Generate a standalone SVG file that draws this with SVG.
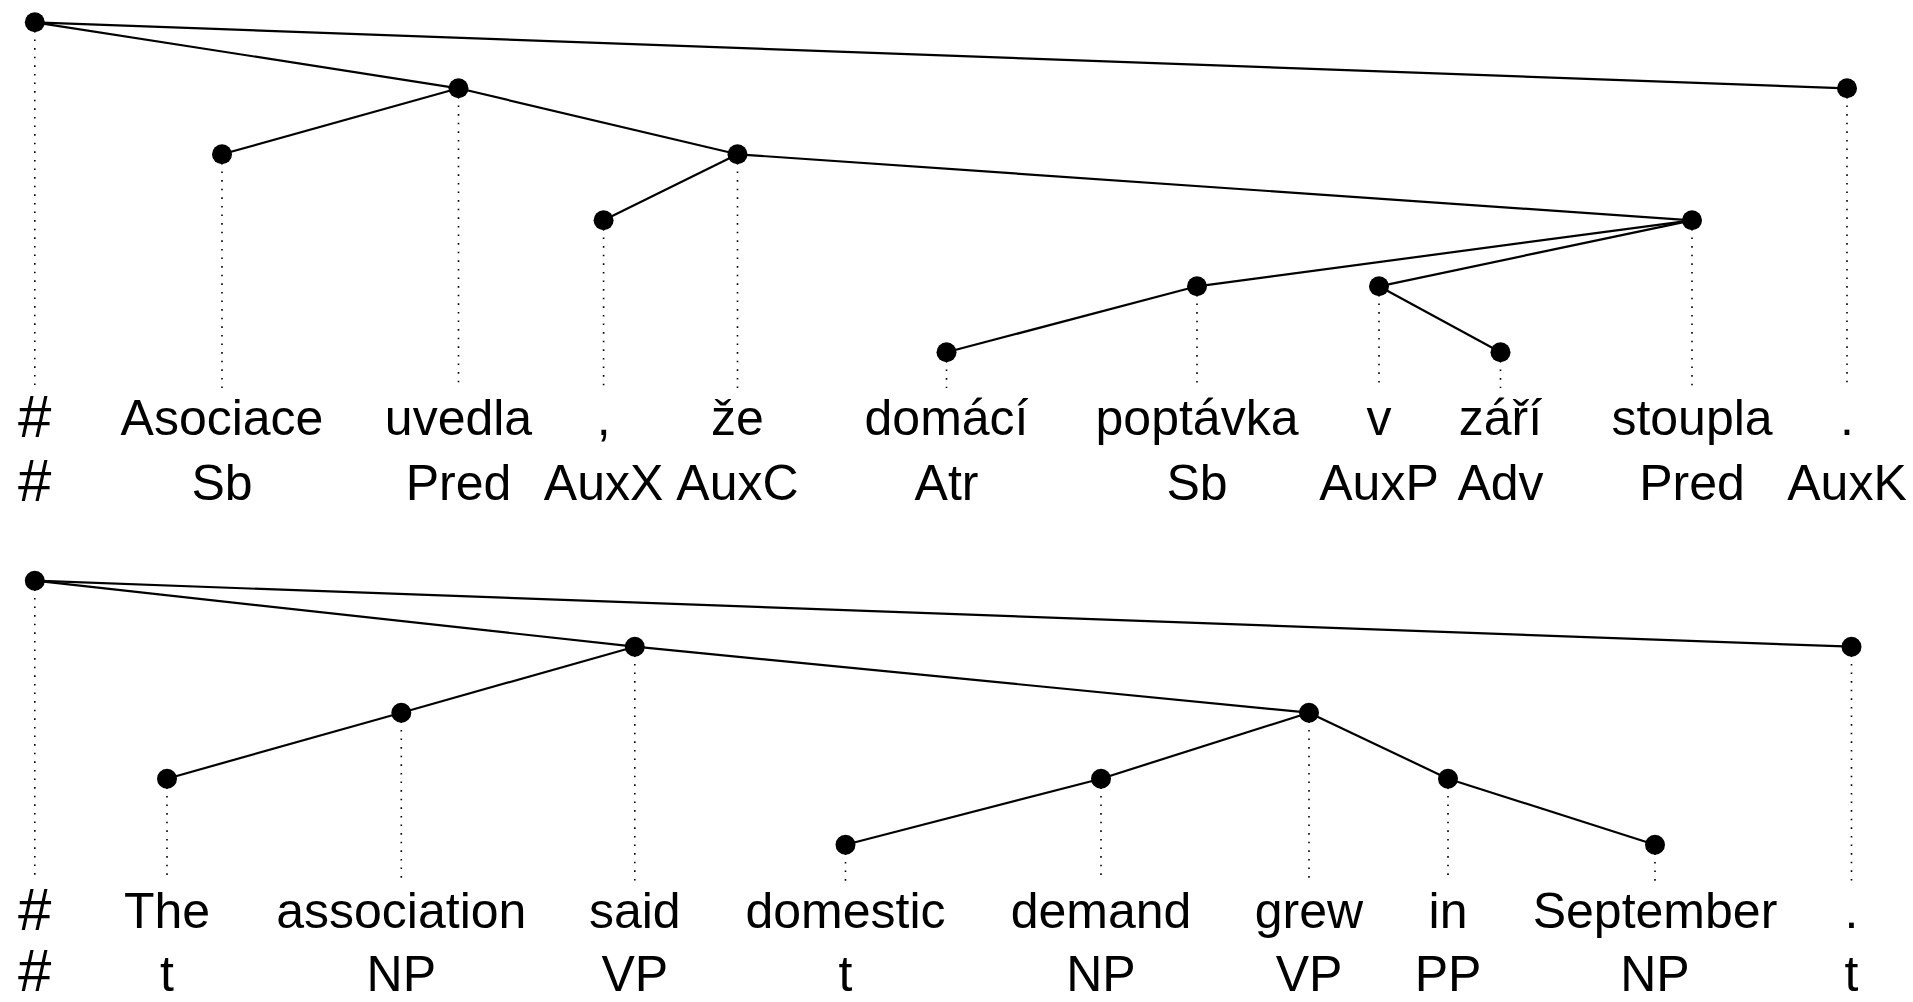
<svg xmlns="http://www.w3.org/2000/svg" width="1913" height="1002" viewBox="0 0 1913 1002">
<style>
.edge{stroke:#000;stroke-width:2.2;fill:none}
.dot{stroke:#000;stroke-width:1.6;stroke-dasharray:1.6 7;fill:none}
.node{fill:#000}
text{font-family:"Liberation Sans",Arial,sans-serif;font-size:50px;fill:#000;text-anchor:middle}
text.hash{font-size:60px}
</style>
<rect width="1913" height="1002" fill="#fff"/>
<g id="connectors">
<g id="top-dotted">
<line class="dot" x1="34.8" y1="22.3" x2="34.8" y2="388"/>
<line class="dot" x1="222" y1="154.3" x2="222" y2="388"/>
<line class="dot" x1="458.5" y1="88.3" x2="458.5" y2="388"/>
<line class="dot" x1="603.6" y1="220.3" x2="603.6" y2="388"/>
<line class="dot" x1="737.5" y1="154.3" x2="737.5" y2="388"/>
<line class="dot" x1="946.5" y1="352.3" x2="946.5" y2="388"/>
<line class="dot" x1="1197" y1="286.3" x2="1197" y2="388"/>
<line class="dot" x1="1379" y1="286.3" x2="1379" y2="388"/>
<line class="dot" x1="1500.5" y1="352.3" x2="1500.5" y2="388"/>
<line class="dot" x1="1692" y1="220.3" x2="1692" y2="388"/>
<line class="dot" x1="1847" y1="88.3" x2="1847" y2="388"/>
</g>
<g id="top-edges">
<line class="edge" x1="34.8" y1="22.3" x2="458.5" y2="88.3"/>
<line class="edge" x1="34.8" y1="22.3" x2="1847" y2="88.3"/>
<line class="edge" x1="458.5" y1="88.3" x2="222" y2="154.3"/>
<line class="edge" x1="458.5" y1="88.3" x2="737.5" y2="154.3"/>
<line class="edge" x1="737.5" y1="154.3" x2="603.6" y2="220.3"/>
<line class="edge" x1="737.5" y1="154.3" x2="1692" y2="220.3"/>
<line class="edge" x1="1692" y1="220.3" x2="1197" y2="286.3"/>
<line class="edge" x1="1692" y1="220.3" x2="1379" y2="286.3"/>
<line class="edge" x1="1197" y1="286.3" x2="946.5" y2="352.3"/>
<line class="edge" x1="1379" y1="286.3" x2="1500.5" y2="352.3"/>
</g>
<g id="bottom-dotted">
<line class="dot" x1="34.8" y1="580.7" x2="34.8" y2="881.7"/>
<line class="dot" x1="167" y1="778.7" x2="167" y2="881.7"/>
<line class="dot" x1="401.3" y1="712.7" x2="401.3" y2="881.7"/>
<line class="dot" x1="634.8" y1="646.7" x2="634.8" y2="881.7"/>
<line class="dot" x1="845.5" y1="844.7" x2="845.5" y2="881.7"/>
<line class="dot" x1="1101" y1="778.7" x2="1101" y2="881.7"/>
<line class="dot" x1="1309" y1="712.7" x2="1309" y2="881.7"/>
<line class="dot" x1="1448" y1="778.7" x2="1448" y2="881.7"/>
<line class="dot" x1="1655" y1="844.7" x2="1655" y2="881.7"/>
<line class="dot" x1="1851.5" y1="646.7" x2="1851.5" y2="881.7"/>
</g>
<g id="bottom-edges">
<line class="edge" x1="34.8" y1="580.7" x2="634.8" y2="646.7"/>
<line class="edge" x1="34.8" y1="580.7" x2="1851.5" y2="646.7"/>
<line class="edge" x1="634.8" y1="646.7" x2="401.3" y2="712.7"/>
<line class="edge" x1="401.3" y1="712.7" x2="167" y2="778.7"/>
<line class="edge" x1="634.8" y1="646.7" x2="1309" y2="712.7"/>
<line class="edge" x1="1309" y1="712.7" x2="1101" y2="778.7"/>
<line class="edge" x1="1101" y1="778.7" x2="845.5" y2="844.7"/>
<line class="edge" x1="1309" y1="712.7" x2="1448" y2="778.7"/>
<line class="edge" x1="1448" y1="778.7" x2="1655" y2="844.7"/>
</g>
</g>
<g id="top-root"><circle class="node" cx="34.8" cy="22.3" r="10"/><text class="hash" x="34.8" y="437">#</text><text class="hash" x="34.8" y="501">#</text></g>
<g id="top-asociace"><circle class="node" cx="222" cy="154.3" r="10"/><text x="222" y="435">Asociace</text><text x="222" y="500">Sb</text></g>
<g id="top-uvedla"><circle class="node" cx="458.5" cy="88.3" r="10"/><text x="458.5" y="435">uvedla</text><text x="458.5" y="500">Pred</text></g>
<g id="top-comma"><circle class="node" cx="603.6" cy="220.3" r="10"/><text x="603.6" y="435">,</text><text x="603.6" y="500">AuxX</text></g>
<g id="top-ze"><circle class="node" cx="737.5" cy="154.3" r="10"/><text x="737.5" y="435">že</text><text x="737.5" y="500">AuxC</text></g>
<g id="top-domaci"><circle class="node" cx="946.5" cy="352.3" r="10"/><text x="946.5" y="435">domácí</text><text x="946.5" y="500">Atr</text></g>
<g id="top-poptavka"><circle class="node" cx="1197" cy="286.3" r="10"/><text x="1197" y="435">poptávka</text><text x="1197" y="500">Sb</text></g>
<g id="top-v"><circle class="node" cx="1379" cy="286.3" r="10"/><text x="1379" y="435">v</text><text x="1379" y="500">AuxP</text></g>
<g id="top-zari"><circle class="node" cx="1500.5" cy="352.3" r="10"/><text x="1500.5" y="435">září</text><text x="1500.5" y="500">Adv</text></g>
<g id="top-stoupla"><circle class="node" cx="1692" cy="220.3" r="10"/><text x="1692" y="435">stoupla</text><text x="1692" y="500">Pred</text></g>
<g id="top-period"><circle class="node" cx="1847" cy="88.3" r="10"/><text x="1847" y="435">.</text><text x="1847" y="500">AuxK</text></g>
<g id="bot-root"><circle class="node" cx="34.8" cy="580.7" r="10"/><text class="hash" x="34.8" y="930">#</text><text class="hash" x="34.8" y="991">#</text></g>
<g id="bot-the"><circle class="node" cx="167" cy="778.7" r="10"/><text x="167" y="928">The</text><text x="167" y="991">t</text></g>
<g id="bot-association"><circle class="node" cx="401.3" cy="712.7" r="10"/><text x="401.3" y="928">association</text><text x="401.3" y="991">NP</text></g>
<g id="bot-said"><circle class="node" cx="634.8" cy="646.7" r="10"/><text x="634.8" y="928">said</text><text x="634.8" y="991">VP</text></g>
<g id="bot-domestic"><circle class="node" cx="845.5" cy="844.7" r="10"/><text x="845.5" y="928">domestic</text><text x="845.5" y="991">t</text></g>
<g id="bot-demand"><circle class="node" cx="1101" cy="778.7" r="10"/><text x="1101" y="928">demand</text><text x="1101" y="991">NP</text></g>
<g id="bot-grew"><circle class="node" cx="1309" cy="712.7" r="10"/><text x="1309" y="928">grew</text><text x="1309" y="991">VP</text></g>
<g id="bot-in"><circle class="node" cx="1448" cy="778.7" r="10"/><text x="1448" y="928">in</text><text x="1448" y="991">PP</text></g>
<g id="bot-september"><circle class="node" cx="1655" cy="844.7" r="10"/><text x="1655" y="928">September</text><text x="1655" y="991">NP</text></g>
<g id="bot-period"><circle class="node" cx="1851.5" cy="646.7" r="10"/><text x="1851.5" y="928">.</text><text x="1851.5" y="991">t</text></g>
</svg>
